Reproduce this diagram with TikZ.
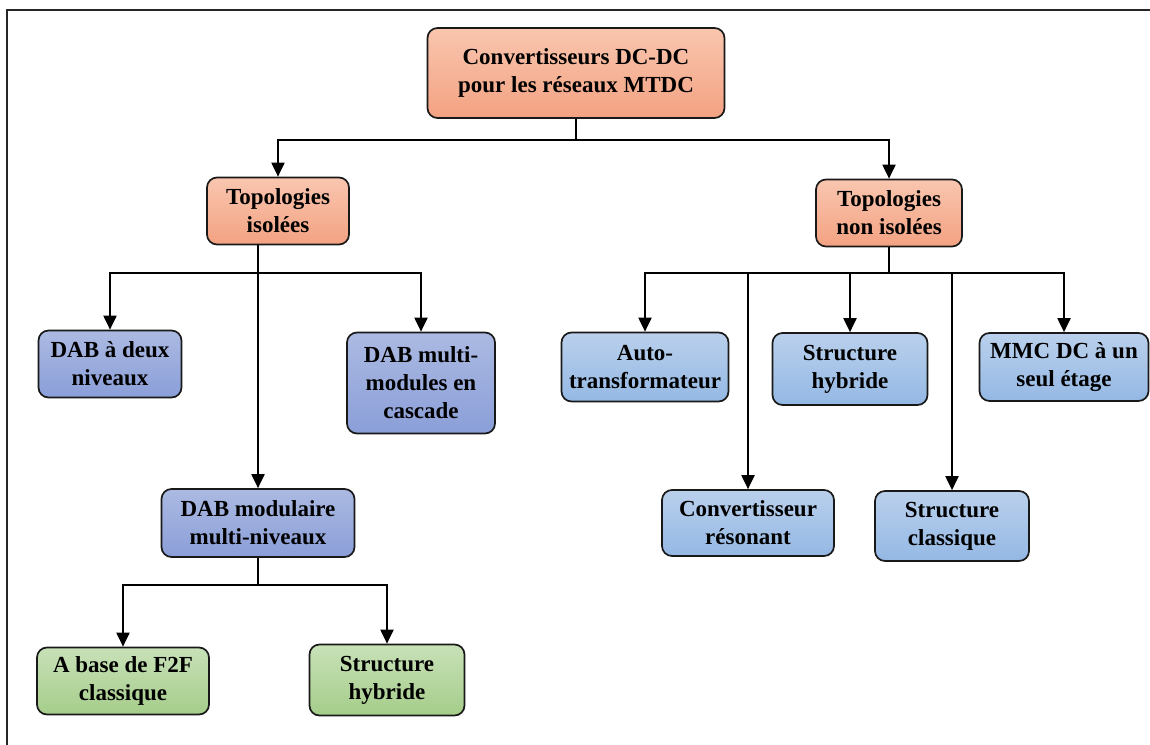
\documentclass[tikz,border=0pt]{standalone}
\usepackage{fontspec}
\setmainfont{Liberation Serif}
\usetikzlibrary{arrows.meta}

\definecolor{orTop}{RGB}{249,198,175}
\definecolor{orBot}{RGB}{243,162,130}
\definecolor{dbTop}{RGB}{172,186,226}
\definecolor{dbBot}{RGB}{138,158,216}
\definecolor{lbTop}{RGB}{186,208,236}
\definecolor{lbBot}{RGB}{148,184,228}
\definecolor{grTop}{RGB}{200,225,184}
\definecolor{grBot}{RGB}{165,205,138}

\tikzset{
  box/.style={draw=black!90, line width=1.7pt, rounded corners=10pt,
    align=center, inner sep=1pt,
    font=\fontsize{23}{28}\selectfont\bfseries},
  orbox/.style={box, top color=orTop, bottom color=orBot},
  dbbox/.style={box, top color=dbTop, bottom color=dbBot},
  lbbox/.style={box, top color=lbTop, bottom color=lbBot},
  grbox/.style={box, top color=grTop, bottom color=grBot},
  link/.style={line width=2pt, black},
  arr/.style={link, -{Triangle[length=14pt,width=13pt]}},
}

\begin{document}
\begin{tikzpicture}[x=1pt,y=-1pt]
\useasboundingbox (0,0) rectangle (1150,744);
\fill[white] (0,0) rectangle (1150,744);

% outer frame (only the top and left edges fall inside the page)
\draw[line width=2.2pt, black!85] (7,746) -- (7,10) -- (1152,10);

% root
\node[orbox, minimum width=297pt, minimum height=90pt] (root) at (576,73)
  {Convertisseurs DC-DC\\pour les réseaux MTDC};

% families
\node[orbox, minimum width=142pt, minimum height=67pt] (iso) at (278,211)
  {Topologies\\isolées};
\node[orbox, minimum width=146pt, minimum height=67pt] (noniso) at (889,213)
  {Topologies\\non isolées};

% isolated topologies
\node[dbbox, minimum width=143pt, minimum height=67pt] (d2) at (110,364)
  {DAB à deux\\niveaux};
\node[dbbox, minimum width=148pt, minimum height=101pt] (casc) at (421,383)
  {DAB multi-\\modules en\\cascade};
\node[dbbox, minimum width=193pt, minimum height=68pt] (mod) at (258,523)
  {DAB modulaire\\multi-niveaux};
\node[grbox, minimum width=172pt, minimum height=67pt] (f2f) at (123,681)
  {A base de F2F\\classique};
\node[grbox, minimum width=155pt, minimum height=71pt] (hyb1) at (387,680)
  {Structure\\hybride};

% non-isolated topologies
\node[lbbox, minimum width=167pt, minimum height=69pt] (auto) at (645,367)
  {Auto-\\transformateur};
\node[lbbox, minimum width=172pt, minimum height=66pt] (res) at (748,523)
  {Convertisseur\\résonant};
\node[lbbox, minimum width=155pt, minimum height=72pt] (hyb2) at (850,369)
  {Structure\\hybride};
\node[lbbox, minimum width=154pt, minimum height=70pt] (cls) at (952,526)
  {Structure\\classique};
\node[lbbox, minimum width=169pt, minimum height=68pt] (mmc) at (1064,367)
  {MMC DC à un\\seul étage};

% root -> families
\coordinate (j0) at (576,140);
\draw[link] (root.south) -- (j0);
\draw[arr] (j0) -| (iso.north);
\draw[arr] (j0) -| (noniso.north);

% isolated branch
\coordinate (j1) at (258,273);
\draw[arr] (iso.south -| mod.north) -- (mod.north);
\draw[arr] (j1) -| (d2.north);
\draw[arr] (j1) -| (casc.north);

% modular DAB branch
\coordinate (j2) at (258,585);
\draw[link] (mod.south) -- (j2);
\draw[arr] (j2) -| (f2f.north);
\draw[arr] (j2) -| (hyb1.north);

% non-isolated branch
\coordinate (j3) at (889,273);
\draw[link] (noniso.south) -- (j3);
\draw[arr] (j3) -| (auto.north);
\draw[arr] (j3) -| (res.north);
\draw[arr] (j3) -| (hyb2.north);
\draw[arr] (j3) -| (cls.north);
\draw[arr] (j3) -| (mmc.north);
\end{tikzpicture}
\end{document}
